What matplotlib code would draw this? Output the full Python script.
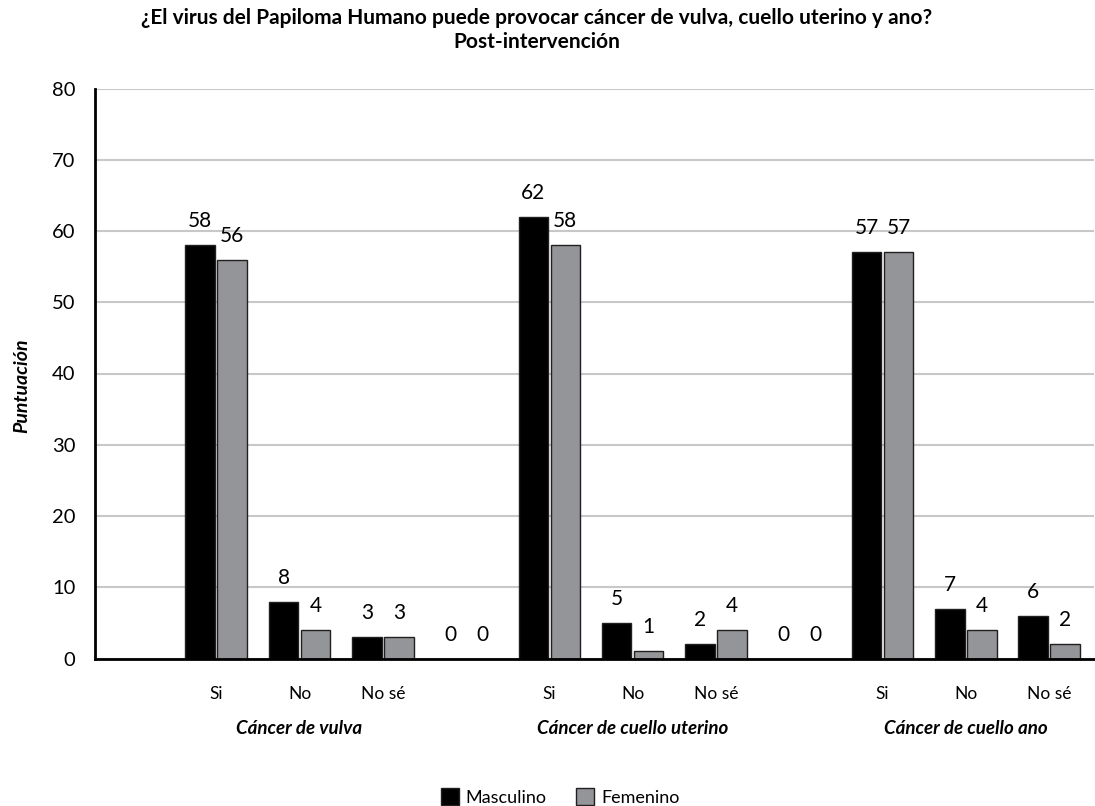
import numpy as np
import matplotlib
matplotlib.use("Agg")
import matplotlib.pyplot as plt
from matplotlib.transforms import blended_transform_factory
from matplotlib.patches import Patch

plt.rcParams['font.family'] = ['Lato', 'DejaVu Sans']

title = "¿El virus del Papiloma Humano puede provocar cáncer de vulva, cuello uterino y ano?\nPost-intervención"
slots = ["", "Si", "No", "No sé", "", "Si", "No", "No sé", "", "Si", "No", "No sé"]
masculino = [np.nan, 58, 8, 3, 0, 62, 5, 2, 0, 57, 7, 6]
femenino = [np.nan, 56, 4, 3, 0, 58, 1, 4, 0, 57, 4, 2]
groups = ["Cáncer de vulva", "Cáncer de cuello uterino", "Cáncer de cuello ano"]
group_pos = [2, 6, 10]
series_names = ["Masculino", "Femenino"]
yticks = [0, 10, 20, 30, 40, 50, 60, 70, 80]

fig = plt.figure(figsize=(10.95, 8.06), dpi=100)
ax = fig.add_axes([95/1095, 1-658.5/806, 999/1095, 570/806])

x = np.arange(len(slots))
off = 0.192
w = 0.355
m = np.nan_to_num(np.array(masculino, dtype=float))
f = np.nan_to_num(np.array(femenino, dtype=float))
ax.bar(x - off, m, w, color='#000000', edgecolor='#231f20', linewidth=1, zorder=3)
ax.bar(x + off, f, w, color='#939598', edgecolor='#231f20', linewidth=1, zorder=3)

for xi, mv, fv in zip(x, masculino, femenino):
    if not np.isnan(mv):
        ax.annotate(f"{int(mv)}", (xi - off, mv), xytext=(0, 10), textcoords='offset points',
                    ha='center', va='bottom', fontsize=15)
    if not np.isnan(fv):
        ax.annotate(f"{int(fv)}", (xi + off, fv), xytext=(0, 10), textcoords='offset points',
                    ha='center', va='bottom', fontsize=15)

ax.set_xlim(-0.456, 11.54)
ax.set_ylim(0, 80)
ax.set_yticks(yticks)
ax.set_yticklabels([str(t) for t in yticks], fontsize=14.5)
tick_idx = [i for i, s in enumerate(slots) if s]
ax.set_xticks(tick_idx)
ax.set_xticklabels([slots[i] for i in tick_idx], fontsize=12.5)
ax.tick_params(axis='both', length=0)
ax.tick_params(axis='x', pad=20)
ax.tick_params(axis='y', pad=14)
ax.grid(axis='y', color='#c8c8c8', linewidth=1.5, zorder=0)
ax.set_axisbelow(True)
for s in ['top', 'right']:
    ax.spines[s].set_visible(False)
ax.spines['left'].set_linewidth(2)
ax.spines['bottom'].set_linewidth(2)
ax.spines['bottom'].set_zorder(4)

trans = blended_transform_factory(ax.transData, fig.transFigure)
for g, gp in zip(groups, group_pos):
    ax.text(gp, 1 - 729/806, g, transform=trans, ha='center', va='center',
            fontsize=13.5, fontweight='bold', style='italic')

fig.text(22/1095, 1 - 386/806, "Puntuación", rotation=90, ha='center', va='center',
         fontsize=14, fontweight='bold', style='italic')

fig.text(537/1095, 1 - 30/806, title, ha='center', va='center', fontsize=15,
         fontweight='bold', linespacing=1.25)

handles = [Patch(facecolor='#000000', edgecolor='#231f20'),
           Patch(facecolor='#939598', edgecolor='#231f20')]
fig.legend(handles, series_names, loc='center', bbox_to_anchor=(560/1095, 1 - 797/806),
           ncol=2, frameon=False, fontsize=13, handlelength=1.0, handleheight=1.0,
           handletextpad=0.4, columnspacing=1.6)

fig.savefig("out.png", dpi=100)
